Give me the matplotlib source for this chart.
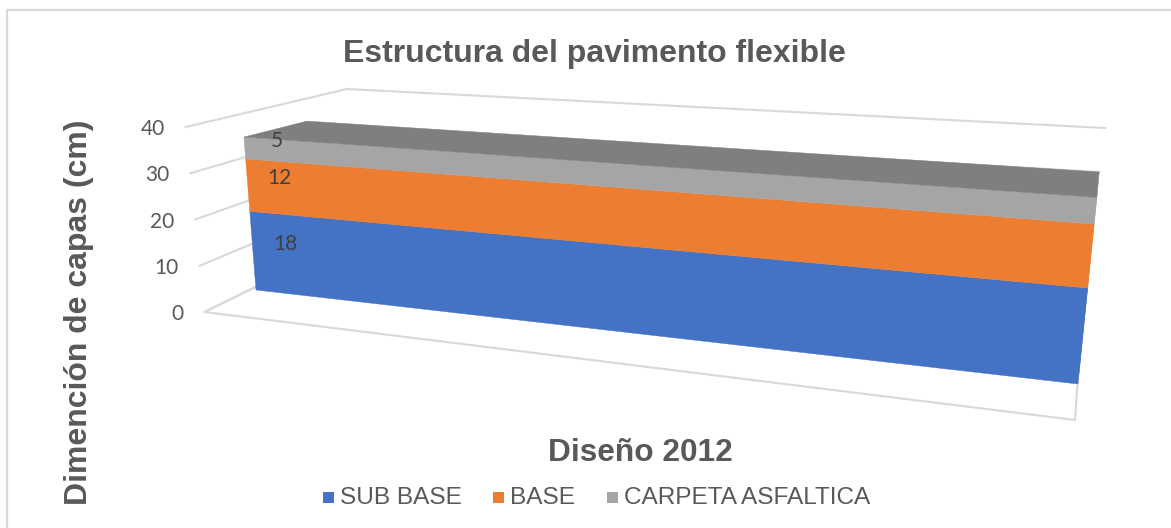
import matplotlib
matplotlib.use('Agg')
import matplotlib.pyplot as plt
from matplotlib.patches import Polygon, Rectangle

# layer thicknesses, stacked bottom to top
series_names = ['SUB BASE', 'BASE', 'CARPETA ASFALTICA']
series_values = [18, 12, 5]
front_colors = ['#4472c4', '#ed7d31', '#a5a5a5']
side_colors = ['#335aa0', '#d96a1f', '#8c8c8c']
top_color = '#7f7f7f'
z_ticks = [0, 10, 20, 30, 40]

title = 'Estructura del pavimento flexible'
x_title = 'Diseño 2012'
y_title = 'Dimención de capas (cm)'

W, H = 1171, 528
GREY = '#595959'
GRID = '#d9d9d9'

# screen position of each corner: (x, y at z=0, x per cm, y per cm)
frame = {
    'fl': (204.5, 312, -0.47, -4.625),
    'fr': (1075, 420, 0.75, -7.3),
    'bl': (345, 243, 0.05, -3.85),
    'br': (1083, 304, 0.55, -4.4),
}
box = {
    'fl': (256, 290, -0.345, -4.37),
    'fr': (1078, 384, 0.54, -5.33),
    'bl': (314, 280, -0.2, -4.54),
    'br': (1082, 333, 0.49, -4.6),
}


def corner(table, name, z):
    x0, y0, dx, dy = table[name]
    return (x0 + dx * z, y0 + dy * z)


fig = plt.figure(figsize=(W / 100, H / 100), dpi=100)
ax = fig.add_axes([0, 0, 1, 1])
ax.set_xlim(0, W)
ax.set_ylim(H, 0)
ax.axis('off')

# chart area border, only top and left fall inside the image
ax.plot([7, 7, W], [H, 9.5, 9.5], color=GRID, lw=1.6, zorder=1)

# walls: one line round the left and back wall per tick
for z in z_ticks:
    pts = [corner(frame, 'fl', z), corner(frame, 'bl', z), corner(frame, 'br', z)]
    ax.plot([p[0] for p in pts], [p[1] for p in pts], color=GRID, lw=1.5, zorder=1)
    fx, fy = pts[0]
    ax.text(fx - 21, fy + 2, str(z), ha='right', va='center', fontsize=15,
            color=GREY, family='Lato')

# floor edges
floor = [corner(frame, k, 0) for k in ('bl', 'fl', 'fr', 'br')]
ax.plot([p[0] for p in floor], [p[1] for p in floor], color=GRID, lw=1.5, zorder=1)

# stacked block, back faces first so the layers overlap correctly
levels = [0]
for v in series_values:
    levels.append(levels[-1] + v)

for i in reversed(range(len(series_values))):
    lo, hi = levels[i], levels[i + 1]
    side = [corner(box, 'fr', lo), corner(box, 'br', lo),
            corner(box, 'br', hi), corner(box, 'fr', hi)]
    ax.add_patch(Polygon(side, closed=True, fc=side_colors[i], ec='none', zorder=2))

for i in range(len(series_values)):
    lo, hi = levels[i], levels[i + 1]
    face = [corner(box, 'fl', lo), corner(box, 'fr', lo),
            corner(box, 'fr', hi), corner(box, 'fl', hi)]
    ax.add_patch(Polygon(face, closed=True, fc=front_colors[i], ec=front_colors[i],
                         lw=0.3, zorder=3))

top = levels[-1]
roof = [corner(box, k, top) for k in ('fl', 'bl', 'br', 'fr')]
ax.add_patch(Polygon(roof, closed=True, fc=top_color, ec=top_color, lw=0.3, zorder=3))

# value labels sit near the left end of each layer
for i, v in enumerate(series_values):
    mx, my = corner(box, 'fl', levels[i] + v / 2)
    ax.text(mx + 32, my - 7, str(v), ha='center', va='center', fontsize=15,
            color='#404040', family='Lato', zorder=4)

ax.text(594, 54, title, ha='center', va='center', fontsize=23, fontweight='bold',
        color=GREY, family='Liberation Sans')
ax.text(640, 453, x_title, ha='center', va='center', fontsize=22.8, fontweight='bold',
        color=GREY, family='Liberation Sans')
ax.text(79, 312, y_title, ha='center', va='center', rotation=90, fontsize=23,
        fontweight='bold', color=GREY, family='Liberation Sans')

# legend
legend_x = [323, 493, 607]
for name, col, lx in zip(series_names, front_colors, legend_x):
    ax.add_patch(Rectangle((lx, 492), 11, 11, fc=col, ec='none'))
    ax.text(lx + 17, 498.5, name, ha='left', va='center', fontsize=17.6,
            color=GREY, family='Liberation Sans')

fig.savefig('out.png', dpi=100, facecolor='white')
